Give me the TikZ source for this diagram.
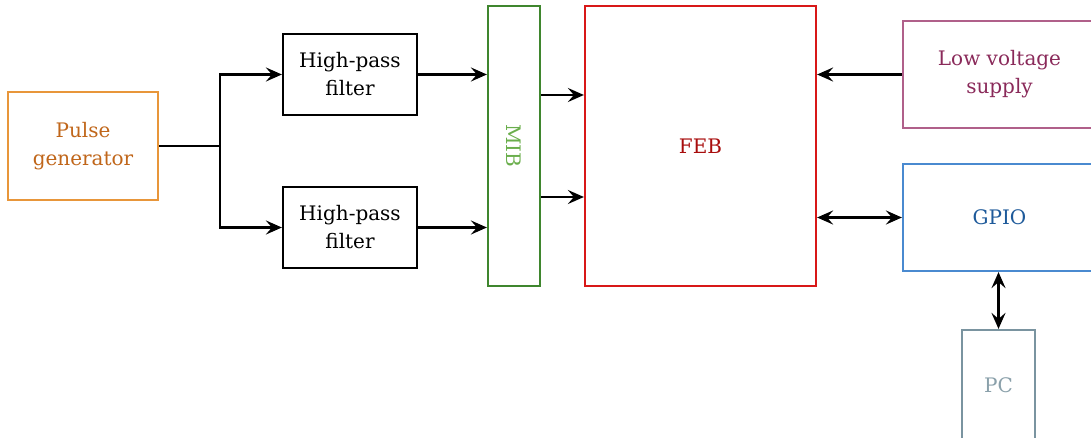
\documentclass[tikz,border=0pt]{standalone}
\usepackage{fontspec}
\setmainfont{DejaVu Serif}
\usetikzlibrary{arrows.meta}

\definecolor{pulseline}{HTML}{E8963A}
\definecolor{pulsetext}{HTML}{C0661A}
\definecolor{mibline}{HTML}{3F862E}
\definecolor{mibtext}{HTML}{6AAE4C}
\definecolor{febline}{HTML}{D81818}
\definecolor{febtext}{HTML}{A80C0C}
\definecolor{lvsline}{HTML}{B0608A}
\definecolor{lvstext}{HTML}{8A2A5A}
\definecolor{gpioline}{HTML}{4A8AD0}
\definecolor{gpiotext}{HTML}{1E5A9A}
\definecolor{pcline}{HTML}{7A94A0}
\definecolor{pctext}{HTML}{8AA0AA}

\tikzset{
  block/.style={draw, line width=1.1pt, align=center, inner sep=0pt,
    font=\fontsize{10}{14}\selectfont},
  link/.style={line width=1.4pt, -{Stealth[length=8pt,width=7pt,inset=3pt]}},
  dlink/.style={line width=1.4pt, {Stealth[length=8pt,width=7pt,inset=3pt]}-{Stealth[length=8pt,width=7pt,inset=3pt]}},
}

\begin{document}
\begin{tikzpicture}[x=0.5pt, y=-0.5pt]
    \useasboundingbox (0,0) rectangle (1091,438);

    % blocks
    \node[block, draw=pulseline, text=pulsetext, minimum width=75pt, minimum height=54pt] (pulse) at (83,146) {Pulse\\generator};
    \node[block, minimum width=67pt, minimum height=40.5pt] (hpfa) at (350,74.5) {High-pass\\filter};
    \node[block, minimum width=67pt, minimum height=40.5pt] (hpfb) at (350,227.5) {High-pass\\filter};
    \node[block, draw=mibline, text=mibtext, minimum width=26pt, minimum height=140pt] (mib) at (514,146) {};
    \node[text=mibtext, rotate=-90, font=\fontsize{10}{14}\selectfont] (miblabel) at (mib.center) {MIB};
    \node[block, draw=febline, text=febtext, minimum width=115.5pt, minimum height=140pt] (feb) at (700.5,146) {FEB};
    \node[block, draw=lvsline, text=lvstext, minimum width=96.5pt, minimum height=53.5pt] (lvs) at (999.5,74.5) {Low voltage\\supply};
    \node[block, draw=gpioline, text=gpiotext, minimum width=96.5pt, minimum height=53.5pt] (gpio) at (999.5,217.5) {GPIO};
    \node[block, draw=pcline, text=pctext, minimum width=36.5pt, minimum height=55pt] (pc) at (998.5,385) {PC};

    % connectors
    \coordinate (split) at (220,146);
    \draw[line width=1.4pt] (pulse.east) -- (split);
    \draw[link] (split) |- (hpfa.west);
    \draw[link] (split) |- (hpfb.west);
    \draw[link] (hpfa.east) -- (mib.west |- hpfa.east);
    \draw[link] (hpfb.east) -- (mib.west |- hpfb.east);
    \draw[link] (mib.east |- 0,95) -- (feb.west |- 0,95);
    \draw[link] (mib.east |- 0,197) -- (feb.west |- 0,197);
    \draw[link] (lvs.west) -- (feb.east |- lvs.west);
    \draw[dlink] (feb.east |- gpio.west) -- (gpio.west);
    \draw[dlink] (gpio.south -| pc.north) -- (pc.north);
\end{tikzpicture}
\end{document}
